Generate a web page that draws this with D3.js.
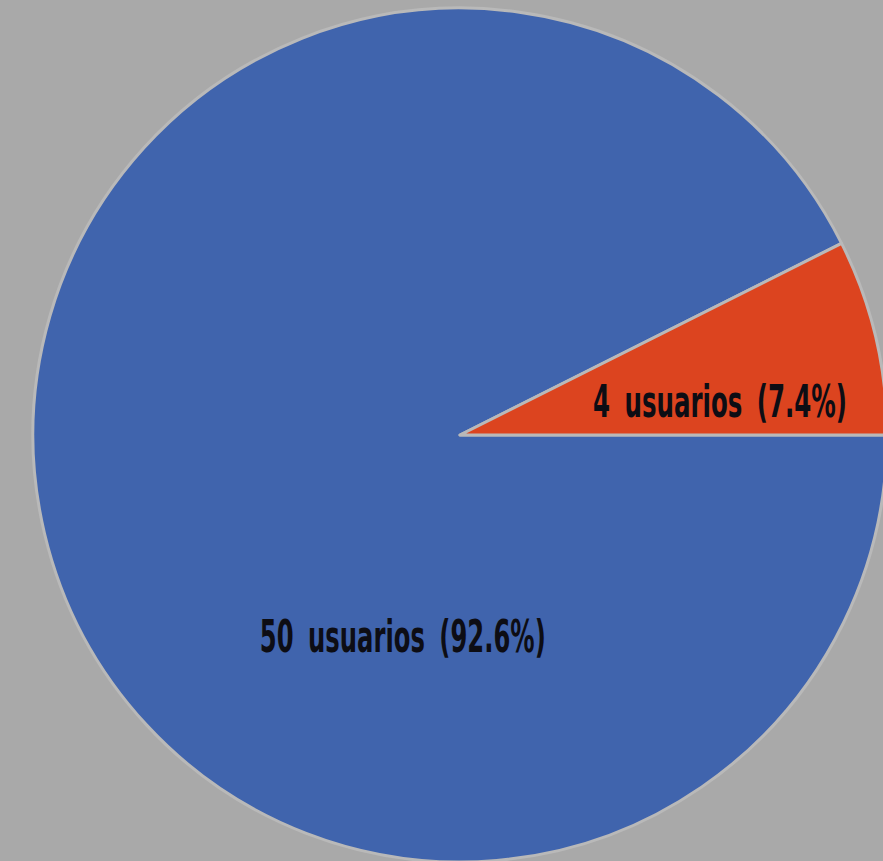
<!DOCTYPE html>
<html><head><meta charset="utf-8">
<script src="https://cdn.jsdelivr.net/npm/d3@7"></script>
<style>html,body{margin:0;padding:0;background:#a9a9a9;}svg{display:block;}</style>
</head><body>
<script>
const categories = ["50 usuarios", "4 usuarios"];
const values = [50, 4];
const percentLabels = ["92.6%", "7.4%"];
const colors = ["#4064ad", "#dc441f"];

const W = 883, H = 861, cx = 460, cy = 435, R = 427;
const svg = d3.select("body").append("svg").attr("width", W).attr("height", H);
svg.append("rect").attr("width", W).attr("height", H).attr("fill", "#a9a9a9");
const g = svg.append("g").attr("transform", `translate(${cx},${cy})`);

const pie = d3.pie().sort(null).value(d => d).startAngle(Math.PI/2).endAngle(Math.PI/2 + 2*Math.PI);
const arcs = pie(values);
const arc = d3.arc().innerRadius(0).outerRadius(R);

g.selectAll("path").data(arcs).join("path")
  .attr("d", arc).attr("fill", (d,i) => colors[i])
  .attr("stroke", "#b9b9b9").attr("stroke-width", 3).attr("stroke-linejoin", "round");

// label placement as fractions of radius (x, baseline y)
const labelPos = [[-0.134, 0.508], [0.609, -0.042]];
const labelWidths = [286, 254];
g.selectAll("text.lbl").data(arcs).join("text").attr("class","lbl")
  .attr("x", (d,i) => labelPos[i][0]*R).attr("y", (d,i) => labelPos[i][1]*R)
  .attr("text-anchor", "middle")
  .attr("font-family", "'Liberation Sans Narrow','DejaVu Sans Condensed','Open Sans',sans-serif")
  .attr("font-size", 45).attr("font-weight", 600).attr("fill", "#0d0d14")
  .attr("word-spacing", 10)
  .attr("textLength", (d,i) => labelWidths[i]).attr("lengthAdjust", "spacingAndGlyphs")
  .text((d,i) => `${categories[i]} (${percentLabels[i]})`);
</script>
</body></html>
